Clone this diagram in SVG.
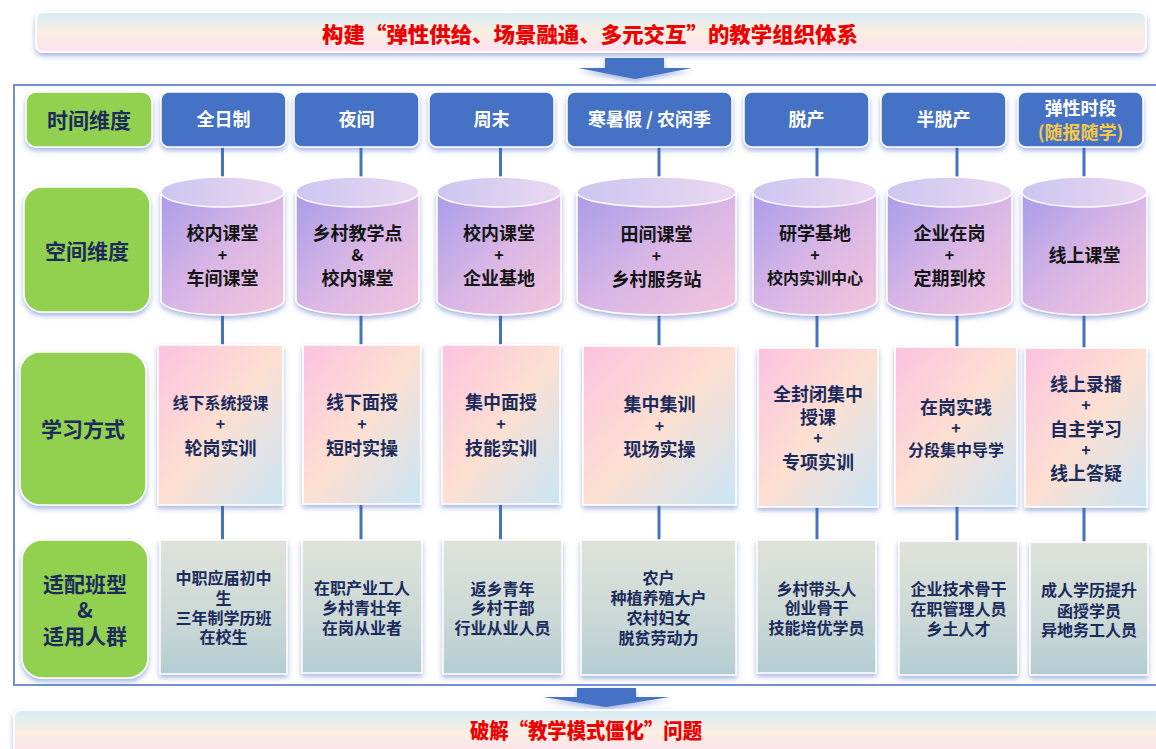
<svg xmlns="http://www.w3.org/2000/svg" width="1156" height="749" viewBox="0 0 1156 749">
<defs>
<linearGradient id="gBan" x1="0" y1="0" x2="0" y2="1">
<stop offset="0" stop-color="#d5ecf8"/><stop offset="0.5" stop-color="#fbefe0"/><stop offset="1" stop-color="#fde0f2"/>
</linearGradient>
<linearGradient id="gCyl" x1="0" y1="0" x2="1" y2="1">
<stop offset="0" stop-color="#a79ce9"/><stop offset="0.5" stop-color="#d9b6e6"/><stop offset="1" stop-color="#f3c6dc"/>
</linearGradient>
<linearGradient id="gTop" x1="0" y1="0" x2="1" y2="0">
<stop offset="0" stop-color="#cbc6f1"/><stop offset="1" stop-color="#ead8f1"/>
</linearGradient>
<linearGradient id="gLearn" x1="0" y1="0" x2="1" y2="1">
<stop offset="0" stop-color="#fcc2e0"/><stop offset="0.5" stop-color="#fde0d2"/><stop offset="1" stop-color="#c9e5f6"/>
</linearGradient>
<linearGradient id="gTarget" x1="0" y1="0" x2="0" y2="1">
<stop offset="0" stop-color="#dfe3da"/><stop offset="0.6" stop-color="#cbd8d6"/><stop offset="1" stop-color="#b3cdd3"/>
</linearGradient>
<filter id="sh" x="-20%" y="-20%" width="140%" height="150%">
<feDropShadow dx="0" dy="3" stdDeviation="2.5" flood-color="#3f5fbf" flood-opacity="0.45"/>
</filter>
</defs>
<style>
text{font-family:"Noto Sans CJK SC","Noto Sans",sans-serif;font-weight:700;text-anchor:middle;dominant-baseline:central}
.ban{fill:url(#gBan);stroke:#ffffff;stroke-width:2;filter:url(#sh)}
.title{fill:#ee0000;font-size:21px;font-weight:900}
.arrow{fill:#4472c4;filter:url(#sh)}
.frame{fill:none;stroke:#7191d3;stroke-width:2}
.lbl{fill:#92d050;stroke:#ffffff;stroke-width:1.5;filter:url(#sh)}
.lt{fill:#1b2b5c;font-size:21px}
.time{fill:#4472c4;stroke:#ffffff;stroke-width:1.5;filter:url(#sh)}
.tt{fill:#ffffff;font-size:18px}
.gold{fill:#f6c848}
.cyl{fill:url(#gCyl);stroke:#ffffff;stroke-width:1.5;filter:url(#sh)}
.cyltop{fill:url(#gTop);stroke:#ffffff;stroke-width:1.5}
.ct{fill:#141414;font-size:18px}
.learn{fill:url(#gLearn);stroke:#ffffff;stroke-width:1.5;filter:url(#sh)}
.target{fill:url(#gTarget);stroke:#ffffff;stroke-width:1.5;filter:url(#sh)}
.nt{fill:#1b2b5c;font-size:18px}
.st{font-size:16px}
.pt{font-size:16px}
.gt{fill:#1b2b5c;font-size:16px}
.conn{stroke:#4472c4;stroke-width:3;fill:none}
</style>

<g id="top-banner">
<rect class="ban" x="36" y="12" width="1110" height="40" rx="7"/>
<text class="title" x="590" y="33" textLength="536" lengthAdjust="spacingAndGlyphs">构建“弹性供给、场景融通、多元交互”的教学组织体系</text>
</g>
<g id="top-arrow">
<polygon class="arrow" points="605,58 664,58 664,68 692,68 635,79 578,68 605,68"/>
</g>

<rect id="frame" class="frame" x="14" y="85" width="1152" height="600"/>

<g id="connectors">
<line class="conn" x1="222.5" y1="147" x2="222.5" y2="178"/>
<line class="conn" x1="222.5" y1="314" x2="222.5" y2="346"/>
<line class="conn" x1="222.5" y1="505" x2="222.5" y2="541"/>
<line class="conn" x1="361" y1="147" x2="361" y2="178"/>
<line class="conn" x1="361" y1="314" x2="361" y2="346"/>
<line class="conn" x1="361" y1="505" x2="361" y2="541"/>
<line class="conn" x1="500.5" y1="147" x2="500.5" y2="178"/>
<line class="conn" x1="500.5" y1="314" x2="500.5" y2="346"/>
<line class="conn" x1="500.5" y1="505" x2="500.5" y2="541"/>
<line class="conn" x1="659" y1="147" x2="659" y2="178"/>
<line class="conn" x1="659" y1="314" x2="659" y2="346"/>
<line class="conn" x1="659" y1="505" x2="659" y2="541"/>
<line class="conn" x1="817" y1="147" x2="817" y2="178"/>
<line class="conn" x1="817" y1="314" x2="817" y2="348"/>
<line class="conn" x1="817" y1="507" x2="817" y2="541"/>
<line class="conn" x1="957" y1="147" x2="957" y2="178"/>
<line class="conn" x1="957" y1="314" x2="957" y2="347"/>
<line class="conn" x1="957" y1="506" x2="957" y2="542"/>
<line class="conn" x1="1084" y1="147" x2="1084" y2="178"/>
<line class="conn" x1="1084" y1="314" x2="1084" y2="348"/>
<line class="conn" x1="1084" y1="507" x2="1084" y2="543"/>
</g>

<!-- row labels -->
<g id="label-time">
<rect class="lbl" x="26" y="92" width="126" height="55" rx="10"/>
<text class="lt" x="89" y="119">时间维度</text>
</g>
<g id="label-space">
<rect class="lbl" x="24" y="187" width="126" height="125" rx="18"/>
<text class="lt" x="87" y="250">空间维度</text>
</g>
<g id="label-learn">
<rect class="lbl" x="20" y="352" width="126" height="153" rx="20"/>
<text class="lt" x="83" y="428">学习方式</text>
</g>
<g id="label-target">
<rect class="lbl" x="22" y="540" width="126" height="138" rx="20"/>
<text class="lt" x="85" y="583">适配班型<tspan x="85" dy="26">&amp;</tspan><tspan x="85" dy="26">适用人群</tspan></text>
</g>

<!-- time row -->
<g id="time-1"><rect class="time" x="161" y="92" width="125" height="55" rx="8"/><text class="tt" x="223.5" y="118">全日制</text></g>
<g id="time-2"><rect class="time" x="294" y="92" width="125" height="55" rx="8"/><text class="tt" x="356.5" y="118">夜间</text></g>
<g id="time-3"><rect class="time" x="429" y="92" width="125" height="55" rx="8"/><text class="tt" x="491.5" y="118">周末</text></g>
<g id="time-4"><rect class="time" x="567" y="92" width="165" height="55" rx="8"/><text class="tt" x="649.5" y="118">寒暑假 / 农闲季</text></g>
<g id="time-5"><rect class="time" x="744" y="92" width="125" height="55" rx="8"/><text class="tt" x="806.5" y="118">脱产</text></g>
<g id="time-6"><rect class="time" x="881" y="92" width="125" height="55" rx="8"/><text class="tt" x="943.5" y="118">半脱产</text></g>
<g id="time-7"><rect class="time" x="1018" y="92" width="125" height="55" rx="8"/><text class="tt" x="1080.5" y="107">弹性时段<tspan class="gold" x="1080.5" dy="24">(随报随学)</tspan></text></g>

<!-- space row (cylinders) -->
<g id="space-1">
<path class="cyl" d="M161,192 L161,300 A61.5,15 0 0 0 284,300 L284,192 Z"/>
<ellipse class="cyltop" cx="222.5" cy="192" rx="61.5" ry="15"/>
<text class="ct" x="222.5" y="232">校内课堂<tspan class="pt" x="222.5" dy="22">+</tspan><tspan x="222.5" dy="23">车间课堂</tspan></text>
</g>
<g id="space-2">
<path class="cyl" d="M296,192 L296,300 A61.5,15 0 0 0 419,300 L419,192 Z"/>
<ellipse class="cyltop" cx="357.5" cy="192" rx="61.5" ry="15"/>
<text class="ct" x="357.5" y="232">乡村教学点<tspan class="pt" x="357.5" dy="22">&amp;</tspan><tspan x="357.5" dy="23">校内课堂</tspan></text>
</g>
<g id="space-3">
<path class="cyl" d="M437,192 L437,300 A62,15 0 0 0 561,300 L561,192 Z"/>
<ellipse class="cyltop" cx="499" cy="192" rx="62" ry="15"/>
<text class="ct" x="499" y="232">校内课堂<tspan class="pt" x="499" dy="22">+</tspan><tspan x="499" dy="23">企业基地</tspan></text>
</g>
<g id="space-4">
<path class="cyl" d="M577,192 L577,300 A79.5,15 0 0 0 736,300 L736,192 Z"/>
<ellipse class="cyltop" cx="656.5" cy="192" rx="79.5" ry="15"/>
<text class="ct" x="656.5" y="233">田间课堂<tspan class="pt" x="656.5" dy="22">+</tspan><tspan x="656.5" dy="23">乡村服务站</tspan></text>
</g>
<g id="space-5">
<path class="cyl" d="M753,192 L753,300 A62,15 0 0 0 877,300 L877,192 Z"/>
<ellipse class="cyltop" cx="815" cy="192" rx="62" ry="15"/>
<text class="ct" x="815" y="232">研学基地<tspan class="pt" x="815" dy="22">+</tspan><tspan class="st" x="815" dy="23">校内实训中心</tspan></text>
</g>
<g id="space-6">
<path class="cyl" d="M887,192 L887,300 A62.5,15 0 0 0 1012,300 L1012,192 Z"/>
<ellipse class="cyltop" cx="949.5" cy="192" rx="62.5" ry="15"/>
<text class="ct" x="949.5" y="232">企业在岗<tspan class="pt" x="949.5" dy="22">+</tspan><tspan x="949.5" dy="23">定期到校</tspan></text>
</g>
<g id="space-7">
<path class="cyl" d="M1022,192 L1022,300 A62.5,15 0 0 0 1147,300 L1147,192 Z"/>
<ellipse class="cyltop" cx="1084.5" cy="192" rx="62.5" ry="15"/>
<text class="ct" x="1084.5" y="254">线上课堂</text>
</g>

<!-- learning row -->
<g id="learn-1"><rect class="learn" x="158" y="345" width="125" height="160"/>
<text class="nt" x="220.5" y="402"><tspan class="st">线下系统授课</tspan><tspan class="pt" x="220.5" dy="21">+</tspan><tspan x="220.5" dy="24">轮岗实训</tspan></text></g>
<g id="learn-2"><rect class="learn" x="303" y="345" width="118" height="159"/>
<text class="nt" x="362" y="401">线下面授<tspan class="pt" x="362" dy="22">+</tspan><tspan x="362" dy="24">短时实操</tspan></text></g>
<g id="learn-3"><rect class="learn" x="442" y="345" width="118" height="159"/>
<text class="nt" x="501" y="401">集中面授<tspan class="pt" x="501" dy="22">+</tspan><tspan x="501" dy="24">技能实训</tspan></text></g>
<g id="learn-4"><rect class="learn" x="583" y="346" width="153" height="159"/>
<text class="nt" x="659.5" y="403">集中集训<tspan class="pt" x="659.5" dy="22">+</tspan><tspan x="659.5" dy="23">现场实操</tspan></text></g>
<g id="learn-5"><rect class="learn" x="758" y="348" width="120" height="159"/>
<text class="nt" x="818" y="393">全封闭集中<tspan x="818" dy="23">授课</tspan><tspan class="pt" x="818" dy="21">+</tspan><tspan x="818" dy="24">专项实训</tspan></text></g>
<g id="learn-6"><rect class="learn" x="895" y="347" width="122" height="159"/>
<text class="nt" x="956" y="406">在岗实践<tspan class="pt" x="956" dy="21">+</tspan><tspan class="st" x="956" dy="22">分段集中导学</tspan></text></g>
<g id="learn-7"><rect class="learn" x="1025" y="348" width="122" height="159"/>
<text class="nt" x="1086" y="383">线上录播<tspan class="pt" x="1086" dy="21">+</tspan><tspan x="1086" dy="24">自主学习</tspan><tspan class="pt" x="1086" dy="21">+</tspan><tspan x="1086" dy="23">线上答疑</tspan></text></g>

<!-- target row -->
<g id="target-1"><rect class="target" x="160" y="540" width="127" height="134"/>
<text class="gt" x="223.5" y="577">中职应届初中<tspan x="223.5" dy="20">生</tspan><tspan x="223.5" dy="20">三年制学历班</tspan><tspan x="223.5" dy="19">在校生</tspan></text></g>
<g id="target-2"><rect class="target" x="302" y="540" width="120" height="133"/>
<text class="gt" x="362" y="587">在职产业工人<tspan x="362" dy="20">乡村青壮年</tspan><tspan x="362" dy="20">在岗从业者</tspan></text></g>
<g id="target-3"><rect class="target" x="443" y="540" width="119" height="134"/>
<text class="gt" x="502.5" y="588">返乡青年<tspan x="502.5" dy="19">乡村干部</tspan><tspan x="502.5" dy="20">行业从业人员</tspan></text></g>
<g id="target-4"><rect class="target" x="581" y="540" width="155" height="135"/>
<text class="gt" x="658.5" y="577">农户<tspan x="658.5" dy="20">种植养殖大户</tspan><tspan x="658.5" dy="20">农村妇女</tspan><tspan x="658.5" dy="20">脱贫劳动力</tspan></text></g>
<g id="target-5"><rect class="target" x="757" y="540" width="119" height="133"/>
<text class="gt" x="816.5" y="588">乡村带头人<tspan x="816.5" dy="19">创业骨干</tspan><tspan x="816.5" dy="20">技能培优学员</tspan></text></g>
<g id="target-6"><rect class="target" x="899" y="541" width="119" height="134"/>
<text class="gt" x="958.5" y="588">企业技术骨干<tspan x="958.5" dy="20">在职管理人员</tspan><tspan x="958.5" dy="20">乡土人才</tspan></text></g>
<g id="target-7"><rect class="target" x="1030" y="542" width="118" height="133"/>
<text class="gt" x="1089" y="589">成人学历提升<tspan x="1089" dy="21">函授学员</tspan><tspan x="1089" dy="19">异地务工人员</tspan></text></g>

<g id="bottom-arrow">
<polygon class="arrow" points="577,688 636,688 636,697 670,697 606,707 543,697 577,697"/>
</g>
<g id="bottom-banner">
<rect class="ban" x="14" y="710" width="1152" height="45" rx="7"/>
<text class="title" x="586" y="729" textLength="232" lengthAdjust="spacingAndGlyphs">破解“教学模式僵化”问题</text>
</g>
</svg>
